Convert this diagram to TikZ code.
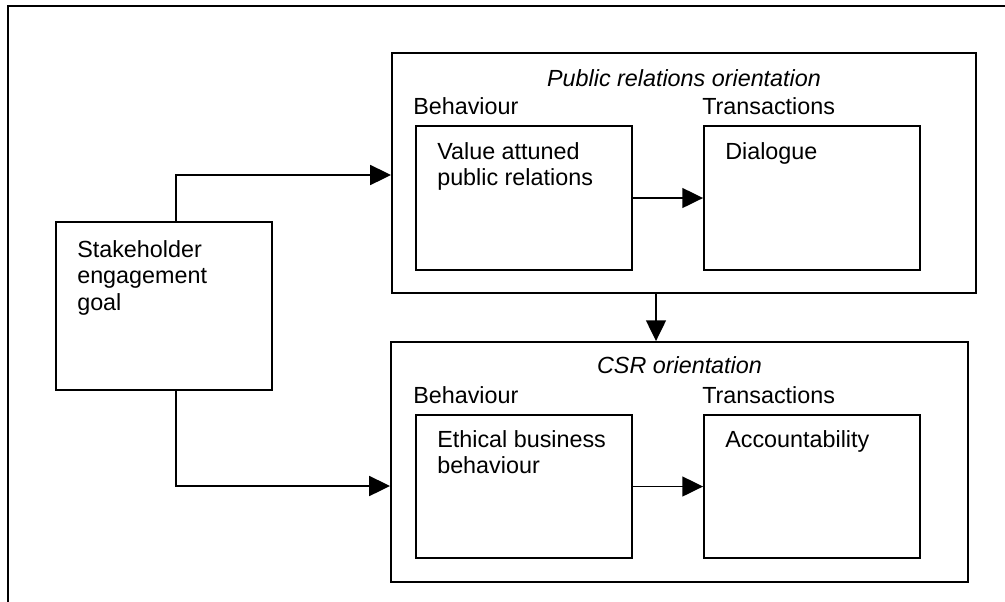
\documentclass[tikz,border=0pt]{standalone}
\usepackage{fontspec}
\setmainfont{Liberation Sans}
\usetikzlibrary{arrows.meta}
\tikzset{
 box/.style={draw, line width=1.3pt, minimum width=5.4cm, minimum height=3.6cm, inner sep=0pt},
 orient/.style={draw, line width=1.3pt, minimum height=6cm, inner sep=0pt},
 txt/.style={anchor=north west, align=left, inner sep=0pt, font=\fontsize{16.6}{18.9}\selectfont},
 head/.style={anchor=base west, inner sep=0pt, font=\fontsize{16.6}{18.9}\selectfont},
 title/.style={anchor=base, inner sep=0pt, font=\fontsize{16.6}{18.9}\selectfont\itshape},
 conn/.style={line width=1.1pt, -{Triangle[length=0.52cm,width=0.5cm]}}
}
\begin{document}
\begin{tikzpicture}[x=0.025cm,y=-0.025cm]
\clip (0,0) rectangle (1005,601);
\draw[line width=1.8pt] (8,6) rectangle (1040,640);

\node[box, minimum height=4.2cm] (goal) at (164,306){};
\node[txt] (goaltxt) at (77,240){Stakeholder\\engagement\\goal};

%Public relations
\node[orient, minimum width=14.6cm] (pr) at (684,173){};
\node[title] (prtitle) at (684,86){Public relations orientation};
\node[head] (prbeh) at (413,114){Behaviour}; \node[head] (prtra) at (702,114){Transactions};
\node[box] (value) at (524,198){}; \node[box] (dialogue) at (812,198){};
\node[txt] (valuetxt) at (437,142){Value attuned\\public relations}; \node[txt] (dialoguetxt) at (725,142){Dialogue};

%CSR
\node[orient, minimum width=14.425cm] (csr) at (679.5,462){};
\node[title] (csrtitle) at (679.5,373){CSR orientation};
\node[head] (csrbeh) at (413,403){Behaviour}; \node[head] (csrtra) at (702,403){Transactions};
\node[box, minimum height=3.575cm] (ethical) at (524,486.5){}; \node[box, minimum height=3.575cm] (account) at (812,486.5){};
\node[txt] (ethicaltxt) at (437,430){Ethical business\\behaviour}; \node[txt] (accounttxt) at (725,430){Accountability};

%connectors
\coordinate (up) at (176,175); \coordinate (down) at (176,486); \coordinate (mid) at (656,300);
\draw[conn] (goal.north -| up) |- (pr.west |- up);
\draw[conn] (goal.south -| down) |- (csr.west |- down);
\draw[conn] (value) -- (dialogue); \draw[conn] (ethical) -- (account);
\draw[conn] (pr.south -| mid) -- (csr.north -| mid);
\end{tikzpicture}
\end{document}
